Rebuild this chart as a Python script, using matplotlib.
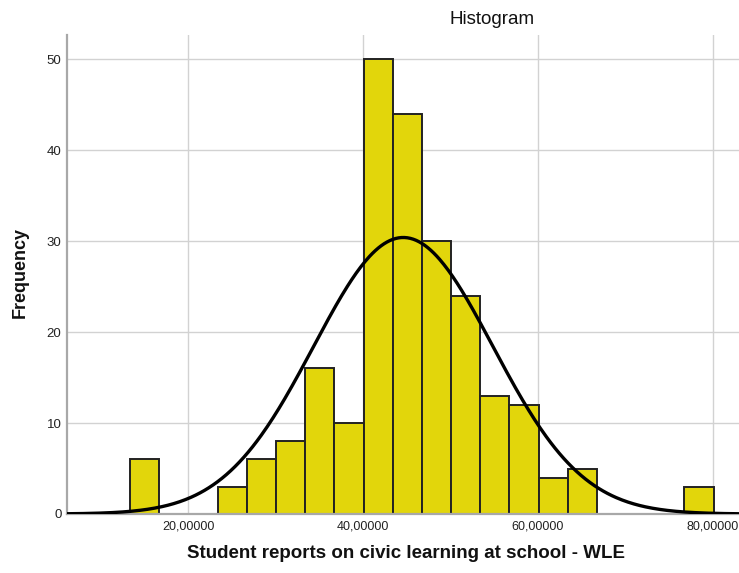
import numpy as np
import matplotlib
matplotlib.use("Agg")
import matplotlib.pyplot as plt

plt.rcParams['font.family'] = ['Liberation Sans', 'DejaVu Sans']

# histogram bins (WLE scores) and frequencies
bin_start = 13.4
bin_width = 3.333
counts = [6, 0, 0, 3, 6, 8, 16, 10, 50, 44, 30, 24, 13, 12, 4, 5, 0, 0, 0, 3]

# normal curve parameters
mean = 44.6
std_dev = 10.24

edges = bin_start + bin_width * np.arange(len(counts) + 1)
n_total = sum(counts)

fig = plt.figure(figsize=(7.39, 5.73), dpi=100)
ax = fig.add_axes([67 / 739, 59 / 573, 1 - 67 / 739, (514 - 35) / 573])

ax.bar(edges[:-1], counts, width=bin_width, align='edge',
       color='#e2d60b', edgecolor='#222222', linewidth=1.4, zorder=2)

xs = np.linspace(0, 100, 600)
curve = n_total * bin_width / (std_dev * np.sqrt(2 * np.pi)) * np.exp(-0.5 * ((xs - mean) / std_dev) ** 2)
ax.plot(xs, curve, color='black', linewidth=2.4, zorder=3, solid_capstyle='butt')

ax.set_xlim(6.17, 20 + (739 - 188) / 8.75)
ax.set_ylim(0, (514 - 35) / 9.1)
ax.set_yticks([0, 10, 20, 30, 40, 50])
ax.set_xticks([20, 40, 60, 80])
ax.set_xticklabels(['20,00000', '40,00000', '60,00000', '80,00000'])
ax.tick_params(axis='x', length=0, labelsize=9, colors='#222222', pad=5)
ax.tick_params(axis='y', length=0, labelsize=9.5, colors='#222222', pad=4)

ax.grid(True, color='#d2d2d2', linewidth=1)
ax.set_axisbelow(True)
for side in ['top', 'right']:
    ax.spines[side].set_visible(False)
ax.spines['left'].set_color('#a8a8a8')
ax.spines['left'].set_linewidth(1.6)
ax.spines['bottom'].set_color('#a8a8a8')
ax.spines['bottom'].set_linewidth(1.6)

fig.text(492 / 739, 1 - 19 / 573, 'Histogram', ha='center', va='center',
         fontsize=13.5, color='#111111')
fig.text(406 / 739, 1 - 553 / 573, 'Student reports on civic learning at school - WLE',
         ha='center', va='center', fontsize=13.5, fontweight='bold', color='#111111')
fig.text(20 / 739, 1 - 273 / 573, 'Frequency', ha='center', va='center',
         rotation=90, fontsize=13, fontweight='bold', color='#111111')

fig.savefig('out.png', dpi=100)
